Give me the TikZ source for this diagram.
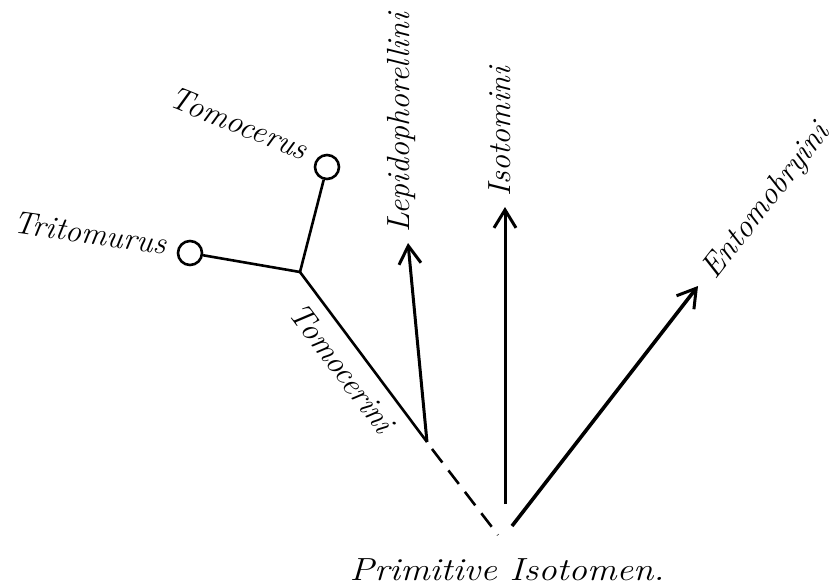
\documentclass[tikz,border=0pt]{standalone}
\usetikzlibrary{arrows.meta}
\begin{document}
\begin{tikzpicture}[x=1pt,y=-1pt,
  lbl/.style={font=\fontsize{32}{38}\selectfont\itshape, inner sep=0pt},
  br/.style={line width=2.6pt},
  arr/.style={line width=3pt, -{Straight Barb[length=18pt,width=22pt,line width=3pt]}},
  leaf/.style={circle, draw, line width=2.6pt, minimum size=24pt, inner sep=0pt}]
\useasboundingbox (0,0) rectangle (835,586);
% points
\coordinate (branch) at (300,272);
\coordinate (fork) at (427,442);
\coordinate (forkd) at (432,449);
\coordinate (dashend) at (498,535);
\coordinate (lepT) at (408,243);
\coordinate (isoB) at (505,504);
\coordinate (isoT) at (505,207);
\coordinate (entB) at (512,526);
\coordinate (entT) at (698,286);
% leaves
\node[leaf] (tomo) at (327,167) {};
\node[leaf] (trit) at (190,253) {};
% lines
\draw[br] (tomo) -- (branch);
\draw[br] (trit) -- (branch);
\draw[br] (branch) -- (fork);
\draw[br, dash pattern=on 17pt off 10pt] (forkd) -- (dashend);
\draw[arr] (fork) -- (lepT);
\draw[arr] (isoB) -- (isoT);
\draw[arr, line width=3.6pt] (entB) -- (entT);
% labels
\node[lbl, rotate=-22] (ltomo) at (239,123) {Tomocerus};
\node[lbl, rotate=-8] (ltrit) at (90,233) {Tritomurus};
\node[lbl, rotate=-53] (ltomi) at (342,368) {Tomocerini};
\node[lbl, rotate=90] (llep) at (401,123) {Lepidophorellini};
\node[lbl, rotate=90] (liso) at (500,132) {Isotomini};
\node[lbl, rotate=52] (lent) at (767,202) {Entomobryini};
\node[lbl, anchor=base] (lprim) at (507,580) {\scalebox{1.15}[1]{Primitive Isotomen.}};
\end{tikzpicture}
\end{document}
